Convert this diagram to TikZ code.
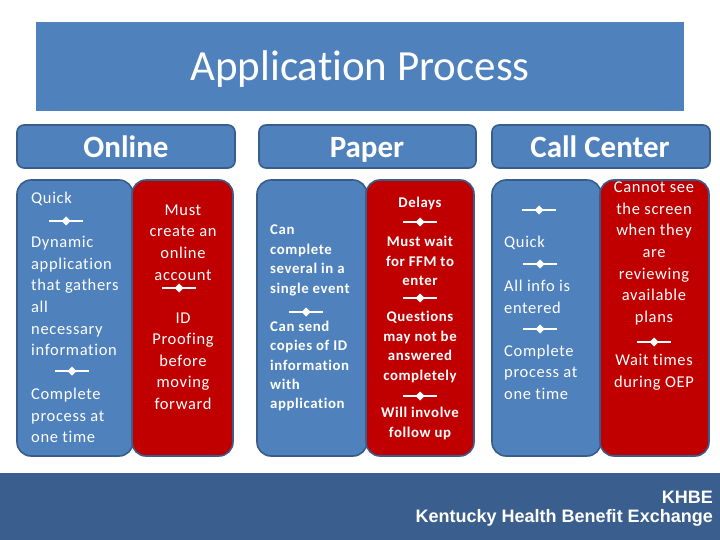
\documentclass[tikz,border=0pt]{standalone}
\usepackage{fontspec}
\setmainfont{Carlito}[Ligatures={NoCommon}]
\newfontfamily\bodyf{Carlito}[Ligatures={NoCommon},LetterSpace=4]
\newfontfamily\arialf{Liberation Sans}
\definecolor{mblue}{HTML}{4F81BD}
\definecolor{mborder}{HTML}{385D8A}
\definecolor{mred}{HTML}{C00000}
\definecolor{mfoot}{HTML}{3A5F8E}
\begin{document}
\begin{tikzpicture}[x=1pt,y=-1pt,
  colblue/.style={fill=mblue,draw=mborder,line width=1.6pt,rounded corners=14pt},
  colred/.style={fill=mred,draw=mborder,line width=1.6pt,rounded corners=14pt},
  hdr/.style={fill=mblue,draw=mborder,line width=1.6pt,rounded corners=7pt},
  hdrtext/.style={text=white,inner sep=0,anchor=base,font=\fontsize{31}{34}\selectfont\bfseries},
  txt/.style={text=white,inner sep=0,font=\bodyf\fontsize{16.5}{21.6}\selectfont},
  txtb/.style={text=white,inner sep=0,font=\bodyf\fontsize{14.8}{19.4}\selectfont\bfseries},
  sepmark/.pic={\draw[white,line width=1.3pt](-17,0)--(17,0);
    \fill[white](-4.5,0)--(0,-4.5)--(4.5,0)--(0,4.5)--cycle;}]
\useasboundingbox (0,0) rectangle (720,540);
\fill[white] (0,0) rectangle (720,540);
% title
\fill[mblue] (36,22) rectangle (684,111);
\node[text=white,inner sep=0,anchor=base,font=\fontsize{43}{46}\selectfont] (title) at (360,81) {Application Process};
% headers
\draw[hdr] (17,125) rectangle (235,168);
\node[hdrtext] (hon) at (126,158) {Online};
\draw[hdr] (259,125) rectangle (476,168);
\node[hdrtext] (hpa) at (367,158) {Paper};
\draw[hdr] (492,125) rectangle (710,168);
\node[hdrtext] (hcc) at (600,158) {Call Center};
% columns
\draw[colblue] (17,180) rectangle (133,456);
\draw[colred] (132,180) rectangle (233,456);
\draw[colblue] (257,180) rectangle (367,456);
\draw[colred] (366,180) rectangle (474,456);
\draw[colblue] (492,180) rectangle (601,456);
\draw[colred] (600,180) rectangle (709,456);
% Online blue
\node[txt,anchor=west] (o1) at (31,199) {Quick};
\pic at (66,221) {sepmark};
\node[txt,anchor=west,align=left] (o2) at (31,296) {Dynamic\\application\\that gathers\\all\\necessary\\information};
\pic at (72,371) {sepmark};
\node[txt,anchor=west,align=left] (o3) at (31,415.5) {Complete\\process at\\one time};
% Online red
\node[txt,align=center] (r1) at (183,242.5) {Must\\create an\\online\\account};
\pic at (179,288) {sepmark};
\node[txt,align=center] (r2) at (183,361) {ID\\Proofing\\before\\moving\\forward};
% Paper blue
\node[txtb,anchor=west,align=left] (p1) at (270,260.5) {Can\\complete\\several in a\\single event};
\pic at (306,312) {sepmark};
\node[txtb,anchor=west,align=left] (p2) at (270,366) {Can send\\copies of ID\\information\\with\\application};
% Paper red
\node[txtb] (q1) at (420,203) {Delays};
\pic at (420,222) {sepmark};
\node[txtb,align=center] (q2) at (420,261) {Must wait\\for FFM to\\enter};
\pic at (420,298) {sepmark};
\node[txtb,align=center] (q3) at (420,347) {Questions\\may not be\\answered\\completely};
\pic at (420,396) {sepmark};
\node[txtb,align=center] (q4) at (420,423.5) {Will involve\\follow up};
% Call blue
\pic at (539,210) {sepmark};
\node[txt,anchor=west] (c1) at (504,243) {Quick};
\pic at (540,264) {sepmark};
\node[txt,anchor=west,align=left] (c2) at (504,297) {All info is\\entered};
\pic at (540,329) {sepmark};
\node[txt,anchor=west,align=left] (c3) at (504,372) {Complete\\process at\\one time};
% Call red
\node[txt,align=center] (d1) at (654,253.5) {Cannot see\\the screen\\when they\\are\\reviewing\\available\\plans};
\pic at (654,342) {sepmark};
\node[txt,align=center] (d2) at (654,372.5) {Wait times\\during OEP};
% footer
\fill[mfoot] (0,473) rectangle (720,540);
\node[text=white,inner sep=0,anchor=east,font=\arialf\bfseries\fontsize{18}{20}\selectfont] (f1) at (713,497) {KHBE};
\node[text=white,inner sep=0,anchor=east,font=\arialf\bfseries\fontsize{18}{20}\selectfont] (f2) at (713,518) {Kentucky Health Benefit Exchange};
\end{tikzpicture}
\end{document}
